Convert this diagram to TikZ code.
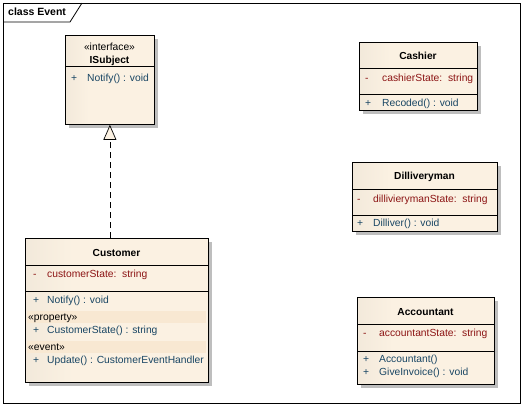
\documentclass[tikz,border=0pt]{standalone}
\usepackage{fontspec}
\setmainfont{Liberation Sans}
\usetikzlibrary{arrows.meta,shadows}

\definecolor{boxleft}{RGB}{226,218,205}
\definecolor{boxright}{RGB}{251,241,226}
\definecolor{bandcol}{RGB}{248,232,210}
\definecolor{attrcol}{RGB}{140,20,20}
\definecolor{opcol}{RGB}{25,70,100}
\definecolor{shadowcol}{RGB}{190,190,190}

\pgfdeclarehorizontalshading{classfill}{100bp}{color(0bp)=(boxleft); color(38bp)=(boxright); color(100bp)=(boxright)}

\tikzset{
	classbox/.style={draw, line width=0.8pt, rectangle, anchor=north west, inner sep=0,
		shading=classfill,
		drop shadow={shadow xshift=4pt, shadow yshift=-4pt, fill=shadowcol, opacity=1}},
	classname/.style={inner sep=0, anchor=mid, font=\fontsize{10.2}{12}\selectfont\bfseries},
	member/.style={inner sep=0, anchor=mid west, font=\fontsize{10.3}{12}\selectfont},
	attr/.style={member, text=attrcol},
	op/.style={member, text=opcol},
	divider/.style={line width=0.6pt},
	band/.style={fill=bandcol, draw=none}
}

\begin{document}
\begin{tikzpicture}[x=1pt, y=-1pt]
\useasboundingbox (0,0) rectangle (523,410);

% frame
\draw[line width=0.8pt] (3,3) rectangle (520,403);
\draw[line width=0.8pt] (3,22) -- (70,22) -- (82,3);
\node[member, font=\fontsize{10.5}{12}\selectfont\bfseries] (frametitle) at (8,13) {class Event};

% ISubject
\node[classbox, minimum width=89pt, minimum height=89pt] (isubject) at (65,35) {};
\node[member, anchor=mid] (isubjectstereo) at (109.5,48) {«interface»};
\node[classname] (isubjectname) at (109.5,61) {ISubject};
\draw[divider] (isubject.west |- 0,66) -- (isubject.east |- 0,66);
\node[op] (isubjectplus) at (71,79) {+};
\node[op] (isubjectop) at (87,79) {Notify() : void};

% Customer
\node[classbox, minimum width=183pt, minimum height=144pt] (customer) at (25,238) {};
\node[classname] (customername) at (116.5,254) {Customer};
\draw[divider] (customer.west |- 0,265) -- (customer.east |- 0,265);
\node[attr] (customerminus) at (33,275) {-};
\node[attr] (customerattr) at (47,275) {customerState:\ \ string};
\draw[divider] (customer.west |- 0,291) -- (customer.east |- 0,291);
\fill[band] (27,311) rectangle (206,323);
\fill[band] (27,341) rectangle (206,353);
\node[member] (propstereo) at (28,318) {«property»};
\node[member] (eventstereo) at (28,348) {«event»};
\foreach \y/\txt in {301/Notify() : void, 331/CustomerState() : string, 361/Update() : CustomerEventHandler} {
	\node[op] (customerplus\y) at (33,\y) {+};
	\node[op] (customerop\y) at (47,\y) {\txt};
}

% Cashier
\node[classbox, minimum width=118pt, minimum height=68pt] (cashier) at (359,42) {};
\node[classname] (cashiername) at (418,57) {Cashier};
\draw[divider] (cashier.west |- 0,68) -- (cashier.east |- 0,68);
\node[attr] (cashierminus) at (365,79) {-};
\node[attr] (cashierattr) at (382,79) {cashierState:\ \ string};
\draw[divider] (cashier.west |- 0,94) -- (cashier.east |- 0,94);
\node[op] (cashierplus) at (365,104) {+};
\node[op] (cashierop) at (382,104) {Recoded() : void};

% Dilliveryman
\node[classbox, minimum width=145pt, minimum height=69pt] (dilliveryman) at (352,162) {};
\node[classname] (dilliverymanname) at (424.5,177) {Dilliveryman};
\draw[divider] (dilliveryman.west |- 0,189) -- (dilliveryman.east |- 0,189);
\node[attr] (dilliverymanminus) at (357,200) {-};
\node[attr] (dilliverymanattr) at (373,200) {dillivierymanState:\ \ string};
\draw[divider] (dilliveryman.west |- 0,215) -- (dilliveryman.east |- 0,215);
\node[op] (dilliverymanplus) at (357,224) {+};
\node[op] (dilliverymanop) at (373,224) {Dilliver() : void};

% Accountant
\node[classbox, minimum width=137pt, minimum height=87pt] (accountant) at (357,297) {};
\node[classname] (accountantname) at (425.5,313) {Accountant};
\draw[divider] (accountant.west |- 0,324) -- (accountant.east |- 0,324);
\node[attr] (accountantminus) at (363,334) {-};
\node[attr] (accountantattr) at (379,334) {accountantState:\ \ string};
\draw[divider] (accountant.west |- 0,351) -- (accountant.east |- 0,351);
\foreach \y/\txt in {360/Accountant(), 373/GiveInvoice() : void} {
	\node[op] (accountantplus\y) at (363,\y) {+};
	\node[op] (accountantop\y) at (379,\y) {\txt};
}

% realization
\draw[line width=0.7pt, dash pattern=on 6pt off 4pt,
	-{Triangle[length=15pt, width=13pt, fill=boxright]}]
	(isubject.south |- customer.north) -- (isubject.south);

\end{tikzpicture}
\end{document}
